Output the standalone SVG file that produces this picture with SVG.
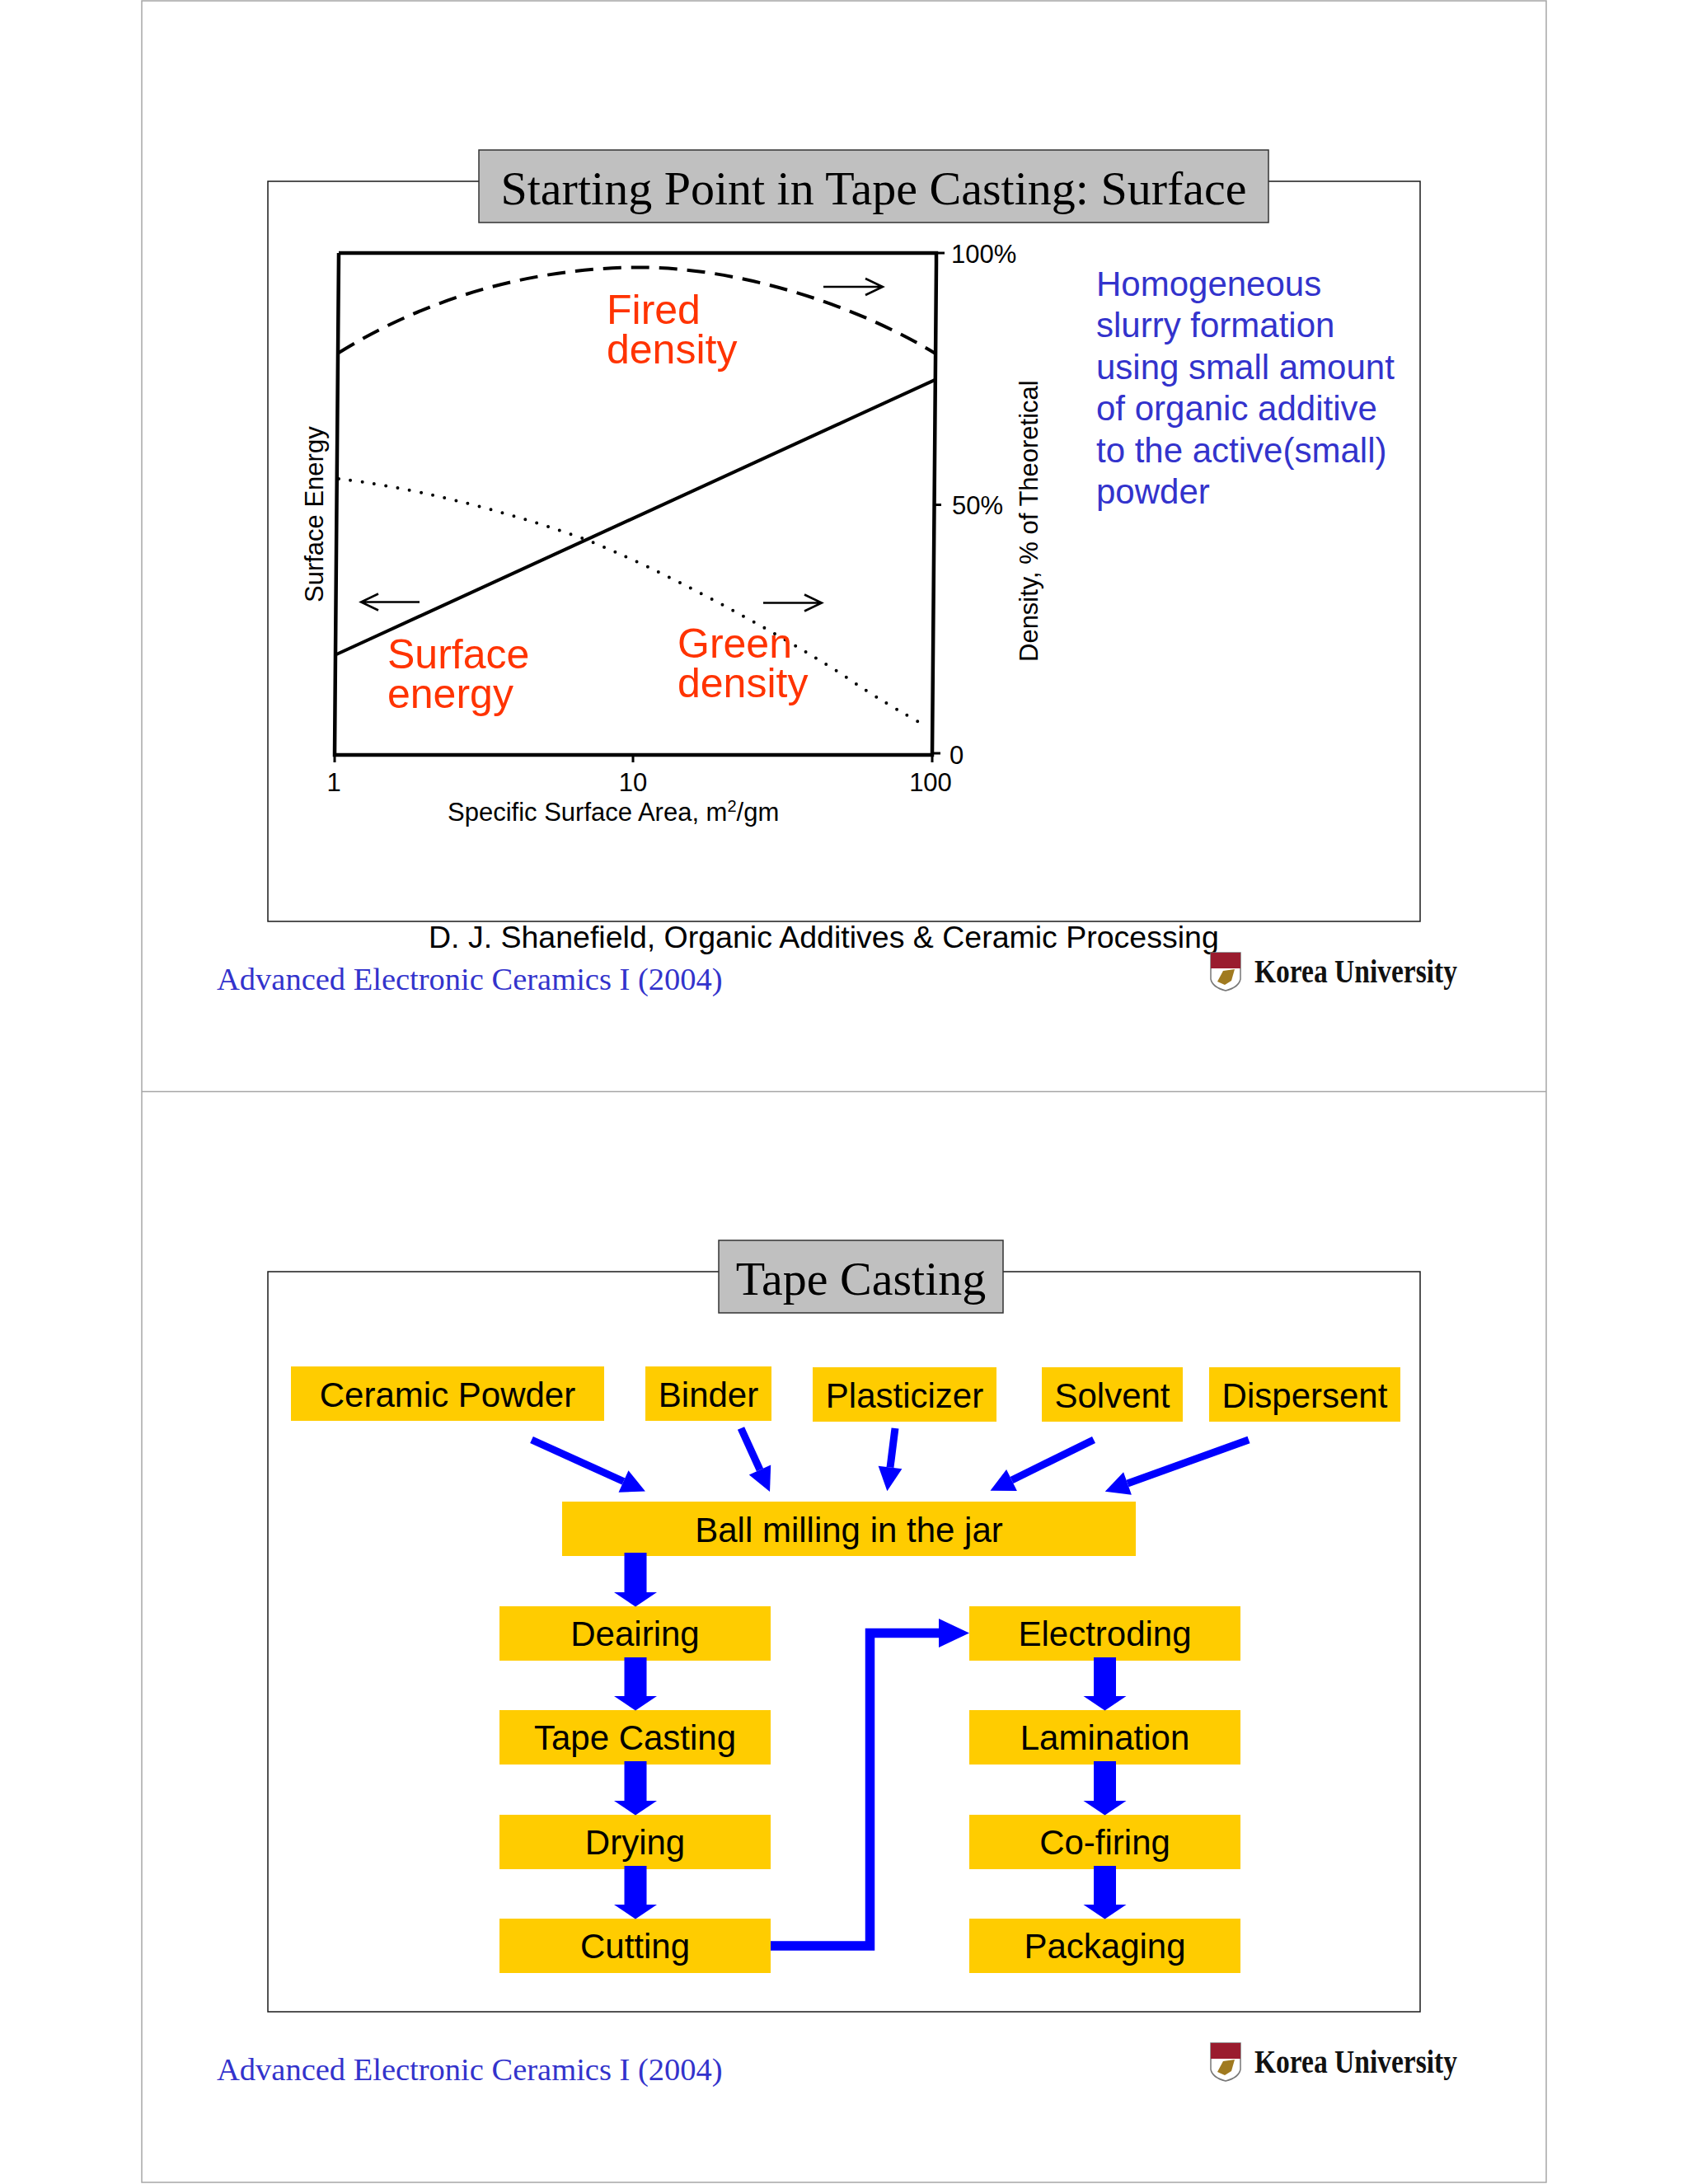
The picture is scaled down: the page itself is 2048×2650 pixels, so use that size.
<svg xmlns="http://www.w3.org/2000/svg" width="2048" height="2650" viewBox="0 0 2048 2650">
<style>
.frame{fill:none;stroke:#1a1a1a;stroke-width:1.5}
.page{fill:none;stroke:#a6a6a6;stroke-width:1.5}
.tbox{fill:#c0c0c0;stroke:#333;stroke-width:1.5}
.title{font:58px "Liberation Serif","Times New Roman",serif;fill:#000;text-anchor:middle}
.foot{font:38.5px "Liberation Serif","Times New Roman",serif;fill:#3333cc}
.cite{font:37.5px "Liberation Sans",Arial,sans-serif;fill:#000}
.side{font:42px "Liberation Sans",Arial,sans-serif;fill:#3333cc}
.red{font:50px "Liberation Sans",Arial,sans-serif;fill:#ff3300}
.ax{font:31px "Liberation Sans",Arial,sans-serif;fill:#000}
.box{fill:#ffcc00}
.lab{font:42px "Liberation Sans",Arial,sans-serif;fill:#000;text-anchor:middle}
.uni{font:bold 39px "Liberation Serif",serif;fill:#111}
.fl{stroke:#0000ff;fill:none;stroke-linecap:butt}
.v{stroke-width:27;marker-end:url(#hv)}
.d{stroke-width:9;marker-end:url(#hd)}
.e{stroke-width:11.5;marker-end:url(#he)}
.ca{fill:none;stroke:#000;stroke-width:4}
.sm{fill:none;stroke:#000;stroke-width:2.5}
</style>
<defs>
<marker id="hv" markerUnits="userSpaceOnUse" markerWidth="60" markerHeight="60" refX="0" refY="30" orient="auto" overflow="visible"><path d="M0,4L17.5,30L0,56Z" fill="#0000ff"/></marker>
<marker id="hd" markerUnits="userSpaceOnUse" markerWidth="40" markerHeight="40" refX="0" refY="20" orient="auto" overflow="visible"><path d="M0,5.500L29,20L0,34.500Z" fill="#0000ff"/></marker>
<marker id="he" markerUnits="userSpaceOnUse" markerWidth="40" markerHeight="40" refX="0" refY="20" orient="auto" overflow="visible"><path d="M0,2.500L37,20L0,37.500Z" fill="#0000ff"/></marker>
</defs>
<rect width="2048" height="2650" fill="#fff"/>
<g id="page-frames">
<rect class="page" x="172" y="1" width="1704" height="2647"/>
<line class="page" x1="172" y1="1324.500" x2="1876" y2="1324.500"/>
</g>

<g id="slide1">
<rect class="frame" x="325" y="220" width="1398" height="898"/>
<rect class="tbox" x="581" y="182" width="958" height="88"/>
<text class="title" x="1060" y="248">Starting Point in Tape Casting: Surface</text>
<g id="chart">
<path d="M411,307H1136V320M1136,320L1131,916H406L411,307" fill="none" stroke="#000" stroke-width="4.500"/>
<path d="M1136,307H1146M1132,612.500H1142M1131,914H1141M406,916V925M768,916V925M1131,916V925" fill="none" stroke="#000" stroke-width="3"/>
<path class="ca" stroke-dasharray="22 12" d="M411,428C520,360 650,324 779,324.500C890,325 1030,365 1135,429"/>
<path class="ca" stroke-width="4" d="M406,795L1135,460.600"/>
<path class="ca" stroke-width="5" stroke-linecap="round" stroke-dasharray="0 14.500" d="M411,581C490,590 600,615 709,654C800,690 930,760 1021.500,818C1060,845 1095,865 1123.600,881"/>
<path class="sm" d="M999,348H1070M1050,338L1071,348L1050,358"/>
<path class="sm" d="M509,730.500H438M459,720.500L438,730.500L459,740.500"/>
<path class="sm" d="M926,731.500H997M976,721.500L997,731.500L976,741.500"/>
<text class="ax" transform="translate(392,731) rotate(-90)">Surface Energy</text>
<text class="ax" transform="translate(1259,803) rotate(-90)" font-size="32">Density, % of Theoretical</text>
<text class="ax" x="1154" y="319">100%</text>
<text class="ax" x="1155" y="624">50%</text>
<text class="ax" x="1152" y="927">0</text>
<text class="ax" x="405" y="960" text-anchor="middle">1</text>
<text class="ax" x="768" y="960" text-anchor="middle">10</text>
<text class="ax" x="1129" y="960" text-anchor="middle">100</text>
<text class="ax" x="543" y="996">Specific Surface Area, m<tspan dy="-11" font-size="20">2</tspan><tspan dy="11">/gm</tspan></text>
<text class="red" x="736" y="393">Fired</text>
<text class="red" x="736" y="441">density</text>
<text class="red" x="470" y="811">Surface</text>
<text class="red" x="470" y="859">energy</text>
<text class="red" x="822" y="798">Green</text>
<text class="red" x="822" y="846">density</text>
</g>
<g id="side-note">
<text class="side" x="1330" y="359">Homogeneous</text>
<text class="side" x="1330" y="409">slurry formation</text>
<text class="side" x="1330" y="460">using small amount</text>
<text class="side" x="1330" y="510">of organic additive</text>
<text class="side" x="1330" y="561">to the active(small)</text>
<text class="side" x="1330" y="611">powder</text>
</g>
<text class="cite" x="520" y="1150">D. J. Shanefield, Organic Additives &amp; Ceramic Processing</text>
<text class="foot" x="263" y="1201">Advanced Electronic Ceramics I (2004)</text>
<g id="logo1">
<path d="M1469,1156H1505V1188Q1503,1198 1487,1202Q1471,1198 1469,1188Z" fill="#fff" stroke="#777" stroke-width="1.500"/>
<path d="M1469,1156H1505V1175H1469Z" fill="#9a1c2e"/>
<path d="M1477,1191L1484,1178L1498,1176L1494,1190L1486,1195Z" fill="#a07a20"/>
<text class="uni" x="1522" y="1192" textLength="246" lengthAdjust="spacingAndGlyphs">Korea University</text>
</g>
</g>

<g id="slide2">
<rect class="frame" x="325" y="1543" width="1398" height="898"/>
<rect class="tbox" x="872" y="1505" width="345" height="88"/>
<text class="title" x="1044.500" y="1571">Tape Casting</text>
<g id="n-ceramic"><rect class="box" x="353" y="1658" width="380" height="66"/><text class="lab" x="543" y="1707">Ceramic Powder</text></g>
<g id="n-binder"><rect class="box" x="783" y="1658" width="153" height="66"/><text class="lab" x="859.500" y="1707">Binder</text></g>
<g id="n-plasticizer"><rect class="box" x="986" y="1659" width="223" height="66"/><text class="lab" x="1097.500" y="1708">Plasticizer</text></g>
<g id="n-solvent"><rect class="box" x="1264" y="1659" width="171" height="66"/><text class="lab" x="1349.500" y="1708">Solvent</text></g>
<g id="n-dispersent"><rect class="box" x="1467" y="1659" width="232" height="66"/><text class="lab" x="1583" y="1708">Dispersent</text></g>
<g id="n-ball"><rect class="box" x="682" y="1822" width="696" height="66"/><text class="lab" x="1030" y="1871">Ball milling in the jar</text></g>
<g id="n-deairing"><rect class="box" x="606" y="1949" width="329" height="66"/><text class="lab" x="770.500" y="1997">Deairing</text></g>
<g id="n-tape"><rect class="box" x="606" y="2075" width="329" height="66"/><text class="lab" x="770.500" y="2123">Tape Casting</text></g>
<g id="n-drying"><rect class="box" x="606" y="2202" width="329" height="66"/><text class="lab" x="770.500" y="2250">Drying</text></g>
<g id="n-cutting"><rect class="box" x="606" y="2328" width="329" height="66"/><text class="lab" x="770.500" y="2376">Cutting</text></g>
<g id="n-electroding"><rect class="box" x="1176" y="1949" width="329" height="66"/><text class="lab" x="1340.500" y="1997">Electroding</text></g>
<g id="n-lamination"><rect class="box" x="1176" y="2075" width="329" height="66"/><text class="lab" x="1340.500" y="2123">Lamination</text></g>
<g id="n-cofiring"><rect class="box" x="1176" y="2202" width="329" height="66"/><text class="lab" x="1340.500" y="2250">Co-firing</text></g>
<g id="n-packaging"><rect class="box" x="1176" y="2328" width="329" height="66"/><text class="lab" x="1340.500" y="2376">Packaging</text></g>
<g id="connectors">
<path class="fl d" d="M645,1747L756.500,1797.500"/>
<path class="fl d" d="M899,1733L922,1783.500"/>
<path class="fl d" d="M1086,1733L1080,1780.500"/>
<path class="fl d" d="M1327,1747L1227.500,1796"/>
<path class="fl d" d="M1515,1747L1368,1800"/>
<path class="fl v" d="M771,1884V1932"/>
<path class="fl v" d="M771,2011V2058"/>
<path class="fl v" d="M771,2137V2185"/>
<path class="fl v" d="M771,2264V2311"/>
<path class="fl v" d="M1340.500,2011V2058"/>
<path class="fl v" d="M1340.500,2137V2185"/>
<path class="fl v" d="M1340.500,2264V2311"/>
<path class="fl e" d="M935,2361H1055.500V1981.500H1139"/>
</g>
<text class="foot" x="263" y="2524">Advanced Electronic Ceramics I (2004)</text>
<g id="logo2">
<path d="M1469,2479H1505V2511Q1503,2521 1487,2525Q1471,2521 1469,2511Z" fill="#fff" stroke="#777" stroke-width="1.500"/>
<path d="M1469,2479H1505V2498H1469Z" fill="#9a1c2e"/>
<path d="M1477,2514L1484,2501L1498,2499L1494,2513L1486,2518Z" fill="#a07a20"/>
<text class="uni" x="1522" y="2515" textLength="246" lengthAdjust="spacingAndGlyphs">Korea University</text>
</g>
</g>
</svg>
